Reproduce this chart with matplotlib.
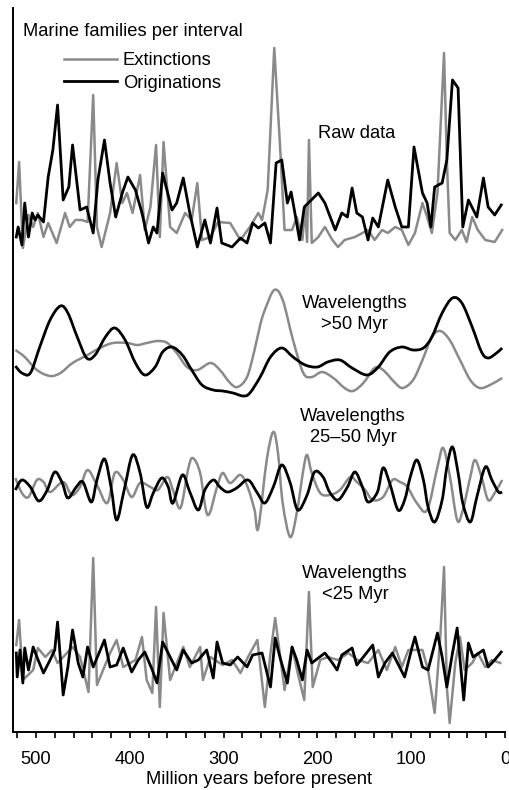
import numpy as np
import matplotlib
matplotlib.use("Agg")
import matplotlib.pyplot as plt
from matplotlib.path import Path
from matplotlib.patches import PathPatch

plt.rcParams["font.family"] = ["Liberation Sans", "DejaVu Sans"]

# 1. Raw data (Myr before present, families per interval, arbitrary scale)
raw_ext_age = [521, 518, 514, 508, 503, 498, 492, 487, 478, 469, 464, 458, 451, 445, 439, 435, 430,
               421, 414, 408, 403, 397, 389, 384, 378, 372, 368, 364, 357, 350, 341, 334, 328, 323,
               314, 306, 293, 282, 272, 263, 259, 253, 246, 240, 235, 227, 222, 216, 213, 211, 209,
               206, 199, 192, 184, 178, 171, 160, 152, 146, 139, 131, 125, 117, 110, 103, 96, 88,
               83, 78, 72, 67, 65, 62, 59, 53, 46, 41, 35, 29, 21, 11, 3]
raw_ext = [45, 86, 0, 33, 21, 35, 11, 25, 5, 35, 21, 28, 28, 26, 153, 21, 1,
           35, 85, 45, 55, 35, 73, 18, 41, 103, 11, 106, 21, 15, 35, 28, 65, 8,
           11, 26, 25, 8, 21, 35, 28, 58, 200, 105, 18, 18, 31, 8, 41, 6, 108,
           5, 11, 21, 8, 1, 8, 11, 15, 18, 8, 18, 15, 21, 18, 3, 15, 45,
           31, 15, 55, 155, 195, 88, 15, 8, 18, 6, 31, 18, 8, 6, 18]

raw_orig_age = [521, 519, 515, 512, 508, 504, 501, 498, 492, 487, 482, 477, 471, 465, 461, 453, 446,
                439, 434, 427, 421, 415, 408, 402, 394, 387, 380, 375, 371, 365, 355, 350, 343, 336,
                328, 320, 314, 307, 302, 291, 282, 275, 269, 263, 256, 250, 244, 238, 232, 228, 224,
                219, 214, 199, 192, 181, 174, 168, 163, 158, 152, 146, 141, 135, 125, 117, 110, 103,
                97, 88, 83, 79, 75, 67, 62, 56, 50, 45, 39, 30, 23, 18, 11, 4]
raw_orig = [11, 21, 3, 45, 11, 35, 28, 33, 26, 71, 98, 143, 48, 61, 103, 38, 41,
            15, 68, 108, 65, 31, 55, 71, 58, 35, 5, 21, 15, 75, 38, 45, 70, 35,
            1, 28, 5, 40, 5, 1, 10, 5, 25, 20, 25, 5, 85, 88, 45, 56, 35,
            8, 41, 55, 45, 18, 35, 31, 60, 35, 31, 8, 30, 21, 68, 41, 21, 21,
            101, 55, 45, 21, 61, 65, 88, 168, 160, 21, 48, 31, 70, 41, 33, 43]

# 2. Wavelengths > 50 Myr
long_ext_age = [522, 512, 499, 485, 474, 461, 445, 432, 418, 403, 392, 382, 370, 360, 350, 339, 328,
                314, 304, 293, 285, 275, 267, 261, 256, 246, 237, 226, 215, 206, 195, 183, 171, 162,
                151, 139, 130, 117, 109, 98, 88, 78, 69, 59, 48, 37, 27, 16, 3]
long_ext = [15, 8, -5, -11, -8, 2, 10, 17, 22, 22, 20, 22, 24, 22, 12, -2, -5,
            2, -5, -18, -22, -12, 15, 40, 55, 75, 65, 25, -8, -12, -7, -13, -23, -26,
            -18, -3, -5, -18, -23, -15, 5, 28, 34, 25, 5, -15, -23, -20, -13]

long_orig_age = [522, 515, 506, 496, 485, 474, 466, 456, 446, 437, 426, 416, 405, 394, 384, 373, 365,
                 355, 344, 334, 323, 311, 301, 290, 279, 272, 261, 250, 238, 226, 213, 200, 189, 176,
                 163, 147, 135, 123, 110, 98, 87, 78, 67, 56, 46, 35, 25, 18, 9, 3]
long_orig = [-1, -8, -8, 18, 45, 59, 52, 28, 7, 10, 28, 37, 25, 2, -10, -2, 13,
             18, 10, -5, -20, -25, -26, -28, -31, -28, -12, 8, 17, 8, 0, -2, 3, 5,
             -3, -10, -2, 13, 18, 15, 17, 28, 52, 67, 62, 38, 13, 7, 12, 17]

# 3. Wavelengths 25-50 Myr
mid_ext_age = [522, 515, 508, 499, 492, 485, 471, 462, 453, 445, 435, 424, 416, 407, 398, 389, 378,
               370, 360, 354, 346, 338, 333, 325, 317, 307, 301, 293, 282, 274, 267, 263, 254, 247,
               242, 237, 229, 222, 215, 211, 206, 197, 187, 176, 165, 158, 149, 141, 130, 120, 112,
               104, 94, 83, 72, 66, 59, 51, 45, 37, 32, 25, 18, 11, 3]
mid_ext = [9, -6, -10, 7, 5, -5, 5, -8, 0, 17, 2, -16, 14, 7, -10, 4, 0,
           -3, 10, -3, -21, 17, 29, 14, -28, 0, 14, 4, 12, -1, -23, -41, 27, 55,
           34, -16, -50, -26, 17, 32, 14, -6, -8, -3, 10, 5, -3, -13, -10, 7, 5,
           0, -16, -23, 20, 39, 12, -33, -23, 10, 27, 10, -13, -6, 7]

mid_orig_age = [522, 515, 506, 497, 488, 480, 472, 466, 457, 450, 441, 435, 427, 420, 414, 406, 397,
                389, 382, 375, 366, 359, 354, 344, 336, 327, 320, 311, 304, 296, 286, 274, 264, 256,
                247, 238, 229, 221, 211, 203, 194, 187, 178, 168, 160, 152, 146, 136, 130, 123, 114,
                107, 101, 94, 87, 82, 75, 67, 62, 56, 50, 45, 37, 30, 21, 14, 7, 3]
mid_orig = [-3, 7, 0, -14, -3, 15, 4, -11, 0, 5, -15, 7, 28, 0, -33, -3, 32,
            14, -20, -6, 9, 0, -16, 12, -5, -23, -3, 7, 0, -5, -1, 7, -6, -16,
            0, 22, 4, -23, -8, 15, 10, -5, -13, 0, 15, 0, -15, -5, 19, 4, -23,
            -13, 10, 27, 7, -20, -35, -13, 20, 40, 14, -16, -35, -10, 20, 7, -5, -5]

# 4. Wavelengths < 25 Myr
short_ext_age = [521, 518, 514, 503, 498, 490, 483, 477, 467, 461, 453, 444, 439, 435, 421, 414, 407,
                 394, 387, 382, 376, 372, 368, 364, 357, 343, 336, 325, 322, 314, 301, 291, 282, 274,
                 264, 256, 250, 245, 235, 227, 221, 214, 209, 205, 197, 189, 178, 167, 157, 146, 135,
                 126, 117, 110, 103, 88, 82, 75, 69, 65, 62, 59, 53, 48, 43, 35, 29, 21, 14, 5]
short_ext = [17, 42, -18, -8, 14, 5, 12, -1, 9, 15, 5, -30, 104, -23, 9, 22, -5,
             2, 25, -18, -31, 55, -45, 49, -18, 15, -5, 15, -18, 5, -3, 2, -11, 5,
             22, -45, 9, 44, -28, 15, -11, -38, 70, -25, 2, 5, 2, 9, 2, -1, 12,
             -8, 15, -5, 12, 12, -8, -51, 25, 95, -25, -61, -1, 25, -8, -1, 9, -5, 2, -1]

short_orig_age = [521, 520, 517, 514, 512, 508, 503, 499, 492, 485, 480, 477, 471, 466, 461, 455, 450,
                  445, 439, 427, 421, 414, 407, 398, 391, 384, 376, 371, 365, 357, 350, 343, 334, 327,
                  318, 311, 307, 301, 293, 285, 275, 269, 259, 250, 245, 240, 232, 227, 222, 216, 211,
                  206, 199, 192, 184, 179, 174, 163, 158, 151, 141, 135, 128, 120, 107, 99, 96, 88,
                  82, 72, 67, 62, 56, 51, 44, 39, 34, 23, 18, 11, 4]
short_orig = [9, -15, 12, -21, 14, -8, 15, 5, -11, 2, 12, 40, -33, -5, 32, -1, -15,
              15, -5, 22, -5, -3, 14, -10, 2, 10, -8, -21, 20, 5, -8, 12, -1, 2,
              12, -16, 20, -1, -3, 5, -5, 7, 9, -25, 24, 5, -21, 15, 2, -18, 12,
              -1, 4, 9, -1, -8, 7, 14, -3, 5, 17, -15, -1, 9, -15, 15, 25, -5,
              -8, 29, 5, -25, 9, 34, -38, 19, 5, 12, -5, 2, 10]

# vertical offset of each panel
offset_raw = 484
offset_long = 367
offset_mid = 245
offset_short = 70

gray = "#8a8a8a"
fs = 13.2


def smooth_path(x, y):
    # Catmull-Rom through the points, drawn as cubic Bezier segments
    p = np.column_stack([x, y]).astype(float)
    ext = np.vstack([p[0], p, p[-1]])
    verts = [p[0]]
    codes = [Path.MOVETO]
    for i in range(1, len(ext) - 2):
        c1 = ext[i] + (ext[i + 1] - ext[i - 1]) / 6
        c2 = ext[i + 1] - (ext[i + 2] - ext[i]) / 6
        verts += [c1, c2, ext[i + 1]]
        codes += [Path.CURVE4] * 3
    return Path(verts, codes)


fig = plt.figure(figsize=(5.09, 7.90), dpi=100)
ax = fig.add_axes([13 / 509, 58 / 790, 492 / 509, 724 / 790])

# raw data and <25 Myr as polylines
ax.plot(raw_ext_age, np.array(raw_ext) + offset_raw, color=gray, lw=1.8, label="Extinctions")
ax.plot(raw_orig_age, np.array(raw_orig) + offset_raw, color="black", lw=2.0, label="Originations")
ax.plot(short_ext_age, np.array(short_ext) + offset_short, color=gray, lw=1.8)
ax.plot(short_orig_age, np.array(short_orig) + offset_short, color="black", lw=2.0)

# filtered series as smooth curves
for ages, vals, off, col, lw in [
    (long_ext_age, long_ext, offset_long, gray, 1.8),
    (long_orig_age, long_orig, offset_long, "black", 2.0),
    (mid_ext_age, mid_ext, offset_mid, gray, 1.8),
    (mid_orig_age, mid_orig, offset_mid, "black", 2.0),
]:
    ax.add_patch(PathPatch(smooth_path(ages, np.array(vals) + off), fill=False,
                           edgecolor=col, lw=lw))

ax.set_xlim(524.5, 0)
ax.set_ylim(0, 724)

ax.spines["top"].set_visible(False)
ax.spines["right"].set_visible(False)
ax.spines["left"].set_linewidth(1.4)
ax.spines["bottom"].set_linewidth(1.4)
ax.set_yticks([])
ax.set_xticks(np.arange(0, 501, 100))
ax.set_xticks(np.arange(0, 521, 20), minor=True)
ax.tick_params(axis="x", which="major", length=4.5, width=1.2, labelsize=fs, pad=9)
ax.tick_params(axis="x", which="minor", length=4.5, width=1.2)
ax.set_xlabel("Million years before present", fontsize=fs, labelpad=2)

ax.text(10 / 492, 1 - 24 / 724, "Marine families per interval", transform=ax.transAxes,
        fontsize=fs, ha="left", va="center")
ax.legend(loc="upper left", bbox_to_anchor=(51 / 492, 1 - 44 / 724), frameon=False,
          fontsize=fs, handlelength=2.9, handletextpad=0.3, labelspacing=0.3,
          borderpad=0, borderaxespad=0)

ax.text(158, offset_raw + 115, "Raw data", fontsize=fs, ha="center", va="center")
ax.text(160, offset_long + 51, "Wavelengths\n>50 Myr", fontsize=fs, ha="center", va="center",
        linespacing=1.25)
ax.text(162, offset_mid + 60, "Wavelengths\n25\u201350 Myr", fontsize=fs, ha="center", va="center",
        linespacing=1.25)
ax.text(160, offset_short + 78, "Wavelengths\n<25 Myr", fontsize=fs, ha="center", va="center",
        linespacing=1.25)

plt.savefig("out.png", dpi=100)
